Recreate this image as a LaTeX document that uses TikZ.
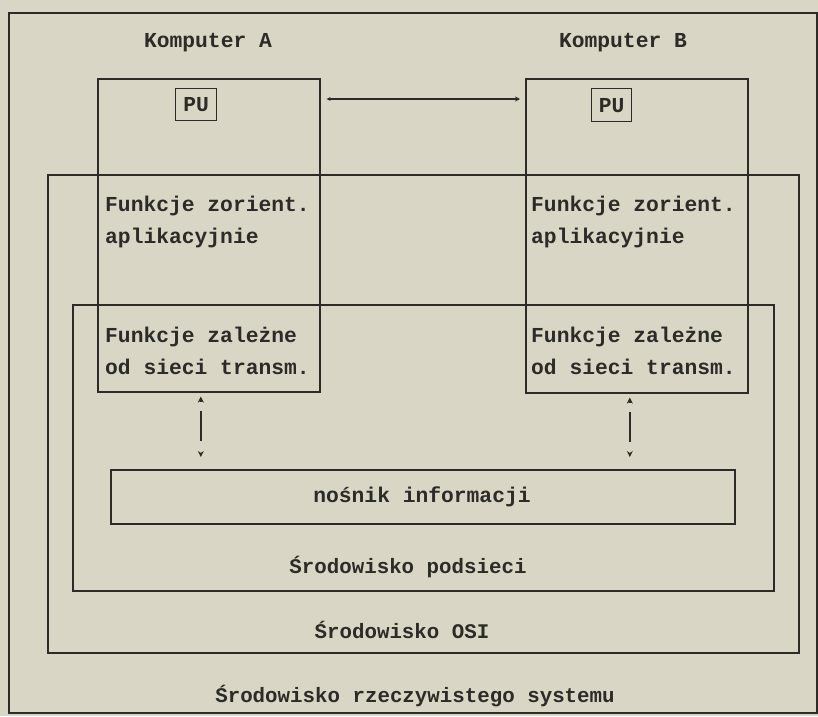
\documentclass[tikz,border=0pt]{standalone}
\usepackage{fontspec}
\newfontfamily\monob{Liberation Mono}
\usetikzlibrary{arrows.meta}
\definecolor{paper}{RGB}{217,214,197}
\definecolor{ink}{RGB}{45,43,40}
\tikzset{
  box/.style={draw=ink, line width=1.6pt, inner sep=0pt, anchor=north west},
  lbl/.style={text=ink, inner sep=0pt, font=\monob\bfseries\fontsize{21.3}{25}\selectfont},
  envlbl/.style={text=ink, inner sep=0pt, font=\monob\bfseries\fontsize{20.8}{25}\selectfont},
  txt/.style={lbl, anchor=west, align=left, font=\monob\bfseries\fontsize{21.3}{32}\selectfont},
  link/.style={draw=ink, line width=1.4pt},
  dlink/.style={link, line width=1.5pt, dash pattern=on 2pt off 9pt on 30pt off 30pt,
    {Stealth[length=6pt,width=6pt]}-{Stealth[length=6pt,width=6pt]}},
}
\begin{document}
\begin{tikzpicture}[x=1pt,y=-1pt]
\fill[paper] (0,0) rectangle (818,716);
\useasboundingbox (0,0) rectangle (818,716);
% environment frames
\node[box, minimum width=808pt, minimum height=700pt] (sys) at (8,12) {};
\node[box, minimum width=751pt, minimum height=478pt] (osi) at (47,174) {};
\node[box, minimum width=701pt, minimum height=286pt] (sub) at (72,304) {};
\node[box, minimum width=624pt, minimum height=54pt] (nos) at (110,469) {};
% computers
\node[box, minimum width=222pt, minimum height=313pt] (A) at (97,78) {};
\node[box, minimum width=222pt, minimum height=314pt] (B) at (525,78) {};
\node[box, line width=1.4pt, minimum width=41pt, minimum height=32pt] (puA) at (175,88) {};
\node[box, line width=1.4pt, minimum width=40pt, minimum height=33pt] (puB) at (591,88) {};
\node[lbl] (puAt) at (puA.center) {PU};
\node[lbl] (puBt) at (puB.center) {PU};
% titles
\node[lbl] (tA) at (208,43) {Komputer A};
\node[lbl] (tB) at (623,43) {Komputer B};
% functions
\node[txt] (fA1) at (105,222) {Funkcje zorient.\\aplikacyjnie};
\node[txt] (fB1) at (531,222) {Funkcje zorient.\\aplikacyjnie};
\node[txt] (fA2) at (105,351) {Funkcje zależne\\od sieci transm.};
\node[txt] (fB2) at (531,351) {Funkcje zależne\\od sieci transm.};
% labels
\node[lbl] (nost) at (422,497) {nośnik informacji};
\node[envlbl] (subt) at (408,567) {Środowisko podsieci};
\node[envlbl] (osit) at (402,630) {Środowisko OSI};
\node[envlbl] (syst) at (415,696) {Środowisko rzeczywistego systemu};
% connectors
\draw[link, {Stealth[length=4pt,width=4pt]}-{Stealth[length=5pt,width=5pt]}]
  ([shift={(6,21)}]A.north east) -- ([shift={(-5,21)}]B.north west);
\coordinate (dA1) at ([shift={(-8,4)}]A.south);
\coordinate (dA2) at (dA1 |- nos.north);
\coordinate (dB1) at ([shift={(-7,4)}]B.south);
\coordinate (dB2) at (dB1 |- nos.north);
\draw[dlink] (dA1) -- ([yshift=12pt]dA2);
\draw[dlink] (dB1) -- ([yshift=12pt]dB2);
\end{tikzpicture}
\end{document}
